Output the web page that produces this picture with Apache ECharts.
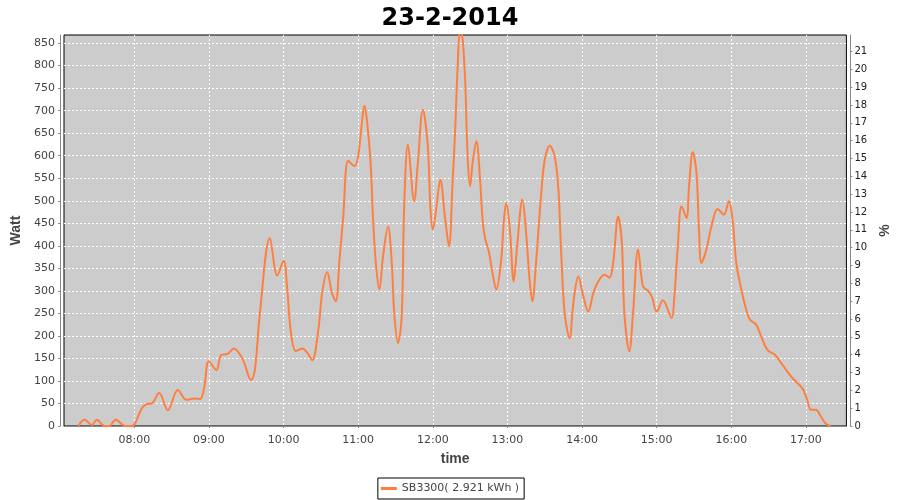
<!DOCTYPE html>
<html><head><meta charset="utf-8">
<script src="https://cdn.jsdelivr.net/npm/echarts@6/dist/echarts.min.js"></script>
<style>html,body{margin:0;padding:0;background:#fff}#c{width:900px;height:500px}</style>
</head><body><div id="c"></div>
<script>
const chartTitle = "23-2-2014";
const seriesName = "SB3300( 2.921 kWh )";
const xName = "time", leftName = "Watt", rightName = "%";
const xRange = ["07:03.5", "17:32.5"];
const wattRange = [0, 868];
const pctRange = [0, 21.92];
const times = ["07:15","07:20","07:26","07:30","07:36","07:40","07:45","07:53","07:58","08:01",
"08:06","08:10","08:14","08:20","08:27","08:35","08:42","08:48","08:53","08:56",
"09:00","09:06","09:10","09:15","09:20","09:27","09:34","09:37","09:41","09:49",
"09:55","10:00","10:03","10:06","10:10","10:15","10:19","10:23","10:28","10:31",
"10:35","10:39","10:42","10:45","10:48","10:52","10:57","11:00","11:03","11:05",
"11:07","11:10","11:12","11:14","11:17","11:20","11:24","11:27","11:29","11:32",
"11:35","11:37","11:40","11:45","11:48","11:52","11:56","11:58","12:00","12:03",
"12:06","12:10","12:13","12:16","12:18","12:20","12:22","12:24","12:26","12:28",
"12:30","12:32","12:35","12:38","12:40","12:42","12:45","12:48","12:51","12:55",
"12:57","12:59","13:02","13:05","13:08","13:12","13:15","13:18","13:20","13:23",
"13:27","13:30","13:34","13:38","13:41","13:43","13:46","13:50","13:53","13:57",
"14:01","14:05","14:09","14:13","14:18","14:22","14:25","14:29","14:32","14:34",
"14:38","14:41","14:45","14:49","14:53","14:56","15:00","15:05","15:12","15:14",
"15:17","15:20","15:24","15:26","15:29","15:32","15:34","15:36","15:40","15:44",
"15:49","15:54","15:58","16:01","16:04","16:08","16:12","16:15","16:20","16:24",
"16:29","16:35","16:41","16:49","16:57","17:01","17:04","17:08","17:12","17:16",
"17:20"];
const watts = [0,14,2,14,0,0,14,0,0,8,
39,49,50,73,35,80,58,61,60,82,
144,124,158,160,172,149,102,125,251,417,
334,367,303,206,166,172,163,146,214,295,
342,295,277,369,465,589,577,599,673,711,
680,584,458,369,303,377,443,362,251,184,
243,488,625,499,584,702,621,488,436,488,
547,458,399,547,658,799,880,858,769,599,
532,584,632,547,458,417,388,340,303,369,
451,495,436,321,406,503,429,318,277,362,
510,591,622,599,525,399,251,195,273,332,
288,254,295,321,336,329,362,465,406,251,
166,251,392,310,300,288,254,279,240,280,
399,488,462,532,608,562,436,362,392,443,
482,469,499,458,362,303,258,236,225,199,
169,158,136,107,84,58,36,36,21,5,
0];

function toHours(s){const p=s.split(':');return +p[0]+(+p[1])/60;}
function fmtHour(h){const H=Math.floor(h+1e-6);const M=Math.round((h-H)*60);return String(H).padStart(2,'0')+':'+String(M).padStart(2,'0');}
const data = times.map((t,i)=>[toHours(t), watts[i]]);

const tickFont = {fontFamily:'DejaVu Sans', fontSize:11, color:'#444'};
const nameFont = {fontFamily:'Liberation Sans', fontSize:14, fontWeight:'bold', color:'#444'};
const grayLine = {lineStyle:{color:'#888', width:1}};

const chart = echarts.init(document.getElementById('c'), null, {renderer:'canvas'});
chart.setOption({
  animation:false,
  backgroundColor:'#fff',
  title:{text:chartTitle, left:'center', top:2, textStyle:{fontFamily:'DejaVu Sans', fontSize:24, fontWeight:'bold', color:'#000'}},
  legend:{bottom:1, left:'center', data:[seriesName], icon:'rect', itemWidth:16, itemHeight:3, itemGap:4,
    borderColor:'#000', borderWidth:1, padding:[5,5,5,3], borderRadius:0,
    textStyle:{fontFamily:'DejaVu Sans', fontSize:11, color:'#444'}},
  grid:{left:64, top:35, width:783, height:391, show:true, backgroundColor:'#cccccc', borderColor:'#000', borderWidth:1},
  xAxis:{type:'value', min:toHours(xRange[0]), max:toHours(xRange[1]), splitNumber:10, minInterval:1, maxInterval:1,
    offset:4, name:xName, nameLocation:'middle', nameGap:22, nameTextStyle:nameFont,
    axisLine:Object.assign({show:true}, grayLine), axisTick:{show:true, length:2, lineStyle:{color:'#888'}},
    axisLabel:Object.assign({formatter:fmtHour, showMinLabel:false, showMaxLabel:false, margin:5}, tickFont),
    splitLine:{show:true, showMinLine:false, showMaxLine:false, lineStyle:{color:'#fff', type:[2,2], width:1}}},
  yAxis:[
    {type:'value', min:wattRange[0], max:wattRange[1], interval:50, offset:4, position:'left',
     name:leftName, nameLocation:'middle', nameGap:29, nameTextStyle:nameFont,
     axisLine:Object.assign({show:true}, grayLine), axisTick:{show:true, length:2, lineStyle:{color:'#888'}},
     axisLabel:Object.assign({showMaxLabel:false, margin:5}, tickFont),
     splitLine:{show:true, showMinLine:false, showMaxLine:false, lineStyle:{color:'#fff', type:[2,2], width:1}}},
    {type:'value', min:pctRange[0], max:pctRange[1], interval:1, offset:4, position:'right',
     name:rightName, nameLocation:'middle', nameGap:21, nameTextStyle:nameFont,
     axisLine:Object.assign({show:true}, grayLine), axisTick:{show:true, length:2, lineStyle:{color:'#888'}},
     axisLabel:{showMaxLabel:false, margin:4, fontFamily:'DejaVu Sans', fontSize:10, color:'#222'},
     splitLine:{show:false}}
  ],
  series:[{name:seriesName, type:'line', yAxisIndex:0, data:data, smooth:0.35, showSymbol:false, clip:true,
    lineStyle:{color:'#ff7f40', width:2}, itemStyle:{color:'#ff7f40'}}]
});
</script></body></html>
